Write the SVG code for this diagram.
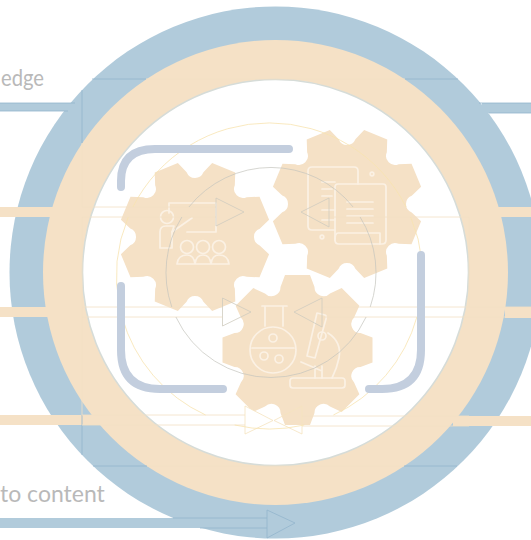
<svg xmlns="http://www.w3.org/2000/svg" xmlns:xlink="http://www.w3.org/1999/xlink" width="531" height="540" viewBox="0 0 531 540">
<style>
.txt{font-family:"Lato","Carlito","Liberation Sans",sans-serif;font-size:23px;fill:#b9b9b9}
.gear{fill:#f5e1c6}
.ico{fill:none;stroke:#fbf1e4;stroke-width:1.7;stroke-linecap:round;stroke-linejoin:round}
.pl{fill:none;stroke:#f3e0c4;stroke-width:.8}
.bl{fill:none;stroke:#93b5cd;stroke-width:.8}
.gr{fill:none;stroke:#c4c4bd;stroke-width:.7}
.yl{fill:none;stroke:#f7e3b0;stroke-width:.8}
.hd{fill:none;stroke:#cfcbbf;stroke-width:.8}
.hp{fill:none;stroke:#f5e3bf;stroke-width:.8}
.cy{fill:none;stroke:#c3cede;stroke-width:8;stroke-linecap:round}
</style>
<defs>
<path id="g" d="M-17,-63L-12.500,-75L12.500,-75L17,-63A9,9 0 0 0 32.500,-56.600L44.200,-61.900L61.900,-44.200L56.600,-32.500A9,9 0 0 0 63,-17L75,-12.500L75,12.500L63,17A9,9 0 0 0 56.600,32.500L61.900,44.200L44.200,61.900L32.500,56.600A9,9 0 0 0 17,63L12.500,75L-12.500,75L-17,63A9,9 0 0 0 -32.500,56.600L-44.200,61.900L-61.900,44.200L-56.600,32.500A9,9 0 0 0 -63,17L-75,12.500L-75,-12.500L-63,-17A9,9 0 0 0 -56.600,-32.500L-61.900,-44.200L-44.200,-61.900L-32.500,-56.600A9,9 0 0 0 -17,-63Z"/>
</defs>
<rect width="531" height="540" fill="#fff"/>
<g id="rings">
<circle cx="275.5" cy="272.5" r="266" fill="#b1cbdb"/>
<circle cx="275.5" cy="272.5" r="232.5" fill="#f5e1c6"/>
<circle cx="275.5" cy="272.5" r="193" fill="#fff" stroke="#d6dcd8" stroke-width="1.6"/>
</g>
<g id="labels">
<text class="txt" x="1" y="86" textLength="43" lengthAdjust="spacingAndGlyphs">edge</text>
<text class="txt" x="0" y="502">to content</text>
</g>
<g id="bars">
<rect x="0" y="103" width="72" height="8" fill="#b1cbdb"/>
<path class="bl" d="M0,103H75M0,111H68"/>
<rect x="482" y="103" width="49" height="10" fill="#b1cbdb"/>
<path class="bl" d="M479,103H531M489,113H531"/>
<rect x="0" y="207" width="53" height="10" fill="#f5e1c6"/>
<rect x="498" y="207" width="33" height="10" fill="#f5e1c6"/>
<rect x="0" y="307" width="49" height="10" fill="#f5e1c6"/>
<rect x="505" y="307" width="26" height="11" fill="#f5e1c6"/>
<rect x="0" y="415" width="100" height="10" fill="#f5e1c6"/>
<rect x="453" y="416" width="78" height="10" fill="#f5e1c6"/>
<rect x="0" y="518" width="267" height="10" fill="#b1cbdb"/>
<path class="bl" d="M173,518H267M200,528H267"/>
</g>
<g id="gear-1">
<use xlink:href="#g" href="#g" class="gear" transform="translate(195,237) rotate(22.5)"/>
</g>
<g id="gear-2">
<use xlink:href="#g" href="#g" class="gear" transform="translate(347,204) rotate(22.5)"/>
</g>
<g id="gear-3">
<use xlink:href="#g" href="#g" class="gear" transform="translate(297.500,350)"/>
</g>
<g id="icon-teach" class="ico">
<path d="M169,213V203H216V232H187"/>
<circle cx="167" cy="217" r="6.500"/>
<path d="M160,248V232Q160,226 166,226H174L172,232V248Z"/>
<path d="M172,232L192,218"/>
<circle cx="187" cy="247" r="6.500"/><circle cx="203" cy="247" r="6.500"/><circle cx="219" cy="247" r="6.500"/>
<path d="M177,264Q178,255 187,255Q194,255 195,264M195,264Q196,255 203,255Q210,255 211,264M211,264Q212,255 219,255Q228,255 229,264M177,264H229"/>
</g>
<g id="icon-docs" class="ico">
<path d="M335,230H312Q308,230 308,226V171Q308,167 312,167H354Q358,167 358,171V184"/>
<path d="M322,182H335M322,189H332M322,196H332M322,210H335M322,220H335"/>
<path d="M335,187Q335,184 338,184H383Q386,184 386,187V240Q386,244 382,244H339Q335,244 335,240Z"/>
<path d="M347,202H373M347,209H373M347,216H373M347,223H373"/>
<path d="M338,233H380V244M335,240Q335,233 338,233"/>
<circle cx="372" cy="174" r="1.800"/><circle cx="322" cy="237" r="1.800"/>
</g>
<g id="icon-lab" class="ico">
<path d="M262,306H287M265,306V326M283,306V326"/>
<circle cx="273" cy="350" r="23"/>
<path d="M252,348H294"/>
<circle cx="273" cy="338" r="4"/><circle cx="264" cy="356" r="4"/><circle cx="279" cy="359" r="4"/>
<rect x="290" y="378" width="55" height="10" rx="3"/>
<path d="M317,313L325,315Q327,316 326,319L315,358L307,356Z"/>
<circle cx="322" cy="336" r="4"/>
<path d="M328,333Q342,342 339,358Q337,368 332,378M301,362L322,371M315,378V366M322,378V366"/>
</g>
<g id="connectors">
<path class="bl" d="M92,79H146M405,79H458M82,90V143M82,415V455M93,466H147M404,466H457"/>
<path class="pl" d="M146,79H405M82,143V207M82,217V415M147,466H404M469,217V307"/>
<path class="pl" d="M82,207H216M82,217H216M329,217H469"/>
<path class="pl" d="M82,307H222M82,317H222M322,307H531M322,317H505"/>
<path class="pl" d="M82,415H245M82,425H245M302,416H469M302,426H469"/>
<path d="M245,406L273,420.500L245,434Z" fill="#fff" stroke="#f5e3bf" stroke-width=".8"/>
<path class="hp" d="M302,406L274,420.500L302,434Z"/>
<path class="hd" d="M216,198L244,212L216,226Z"/>
<path class="hd" d="M329,198L301,212L329,227Z"/>
<path class="hd" d="M222.500,298L251,312L222.500,326Z"/>
<path class="hd" d="M322,298L294,312L322,327Z"/>
<path class="bl" d="M267,510L295,523L267,538Z"/>
</g>
<g id="dial">
<path class="yl" d="M132.900,207A153,153 0 0 1 406.100,207M410.700,217A153,153 0 0 1 419.300,307M416.900,317A153,153 0 0 1 333.400,415M304.300,425A153,153 0 0 1 234.700,425M205.600,415A153,153 0 0 1 122.100,317M119.700,307A153,153 0 0 1 128.300,217"/>
<path class="gr" d="M188.900,207A105,105 0 0 1 353.100,207M360.100,217A105,105 0 0 1 370.200,307M366.100,317A105,105 0 0 1 175.900,317M171.800,307A105,105 0 0 1 181.900,217"/>
</g>
<g id="cycle">
<path class="cy" d="M121,187V181Q121,149 155,149H289"/>
<path class="cy" d="M121,286V350Q121,389 160,389H223"/>
<path class="cy" d="M421,255V350Q421,389 382,389H369"/>
</g>
</svg>
